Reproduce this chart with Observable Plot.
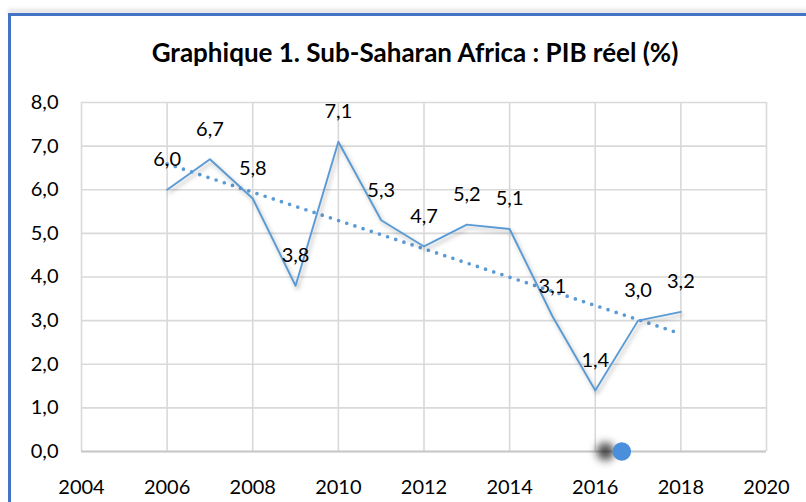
<!DOCTYPE html>
<html><head><meta charset="utf-8">
<script src="https://cdn.jsdelivr.net/npm/d3@7"></script>
<script src="https://cdn.jsdelivr.net/npm/@observablehq/plot@0.6"></script>
<style>
body{margin:0;background:#fff;}
#wrap{position:relative;width:806px;height:502px;overflow:hidden;font-family:Lato,sans-serif;background:#fff;}
#topline{position:absolute;left:8px;top:13px;width:800px;height:2.5px;background:#4472c4;box-shadow:0 -3px 4px rgba(0,0,0,0.18);z-index:2;}
#leftline{position:absolute;left:8px;top:13px;width:2.5px;height:500px;background:#4472c4;z-index:2;}
#title{position:absolute;left:0;width:830px;top:35px;text-align:center;font-weight:bold;font-size:26px;color:#000;line-height:34px;z-index:2;}
#chart{position:absolute;left:0;top:0;}
</style>
</head><body>
<div id="wrap">
  <div id="topline"></div>
  <div id="leftline"></div>
  <div id="title">Graphique 1. Sub-Saharan Africa : PIB réel (%)</div>
  <div id="chart"></div>
</div>
<script>
const years = [2006, 2007, 2008, 2009, 2010, 2011, 2012, 2013, 2014, 2015, 2016, 2017, 2018];
const gdp = [6.0, 6.7, 5.8, 3.8, 7.1, 5.3, 4.7, 5.2, 5.1, 3.1, 1.4, 3.0, 3.2];
const xTicks = [2004, 2006, 2008, 2010, 2012, 2014, 2016, 2018, 2020];
const yTicks = [0, 1, 2, 3, 4, 5, 6, 7, 8];
const markerX = [2016.62];
const markerY = [0];
const shadowX = [2016.24];

const rows = years.map((y, i) => ({year: y, value: gdp[i]}));
const fmt = v => v.toFixed(1).replace(".", ",");
const lineColor = "#5b9bd5";

const chart = Plot.plot({
  width: 806,
  height: 502,
  marginLeft: 81,
  marginRight: 40,
  marginTop: 102,
  marginBottom: 51,
  style: {fontFamily: "Lato, sans-serif", fontSize: "20px", color: "#000", background: "transparent"},
  x: {domain: [2004, 2020], ticks: xTicks, tickFormat: d => String(d), label: null},
  y: {domain: [0, 8], ticks: yTicks, tickFormat: fmt, label: null},
  marks: [
    Plot.gridX(xTicks, {stroke: "#d9d9d9", strokeOpacity: 1, strokeWidth: 1.6}),
    Plot.gridY(yTicks, {stroke: "#d9d9d9", strokeOpacity: 1, strokeWidth: 1.6}),
    Plot.ruleY([0], {stroke: "#c8c8c8", strokeWidth: 2.2}),
    Plot.axisX(xTicks, {tickSize: 0, tickPadding: 28, tickFormat: d => String(d), fill: "#000", label: null}),
    Plot.axisY(yTicks, {tickSize: 0, tickPadding: 23, tickFormat: fmt, fill: "#000", label: null}),
    Plot.linearRegressionY(rows, {x: "year", y: "value", ci: 0, stroke: lineColor, strokeWidth: 3.7, strokeDasharray: "0 8.6", strokeLinecap: "round"}),
    Plot.line(rows, {x: "year", y: "value", stroke: lineColor, strokeWidth: 1.9}),
    Plot.text(rows, {x: "year", y: "value", text: d => fmt(d.value), dy: -30, fill: "#000", fontSize: 20}),
    Plot.dot(shadowX, {x: d => d, y: (d, i) => markerY[i], r: 9, fill: "#2a2a2a", fillOpacity: 0.85}),
    Plot.dot(markerX, {x: d => d, y: (d, i) => markerY[i], r: 9.3, fill: "#4a8fdb"})
  ]
});

const lines = chart.querySelectorAll('g[aria-label="line"] path');
lines.forEach(p => p.style.filter = "drop-shadow(2px 3px 2px rgba(0,0,0,0.28))");
const dots = chart.querySelectorAll('g[aria-label="dot"]');
if (dots.length) dots[0].style.filter = "blur(4.5px)";
document.getElementById("chart").appendChild(chart);
</script>
</body></html>
